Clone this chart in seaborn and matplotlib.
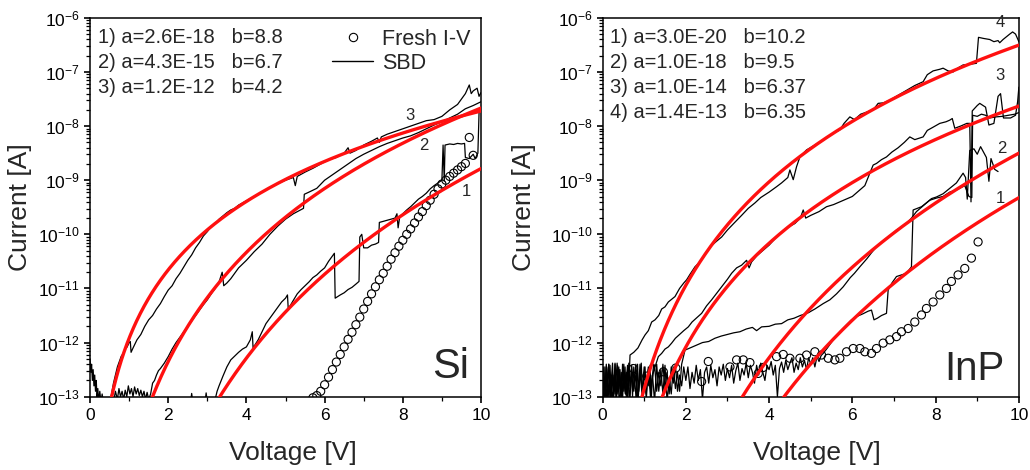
import numpy as np
import pandas as pd
import matplotlib
matplotlib.use("Agg")
import matplotlib.pyplot as plt
import seaborn as sns
from matplotlib.ticker import MultipleLocator, NullFormatter, LogLocator
from matplotlib.lines import Line2D

# ---------------- data (voltages in V, currents as log10(I [A])) ----------------
si_fit_a = [2.6e-18, 4.3e-15, 1.2e-12]
si_fit_b = [8.8, 6.7, 4.2]
si_fit_text = ["1) a=2.6E-18   b=8.8", "2) a=4.3E-15   b=6.7", "3) a=1.2E-12   b=4.2"]

inp_fit_a = [3.0e-20, 1.0e-18, 1.0e-14, 1.4e-13]
inp_fit_b = [10.2, 9.5, 6.37, 6.35]
inp_fit_text = ["1) a=3.0E-20   b=10.2", "2) a=1.0E-18   b=9.5",
                "3) a=1.0E-14   b=6.37", "4) a=1.4E-13   b=6.35"]

si_sbd3_v = [0.00, 0.02, 0.04, 0.06, 0.08, 0.10, 0.12, 0.14, 0.16, 0.18, 0.20, 0.22, 0.25, 0.28, 0.31, 0.34,
             0.37, 0.40, 0.45, 0.50, 0.55, 0.60, 0.65, 0.70, 0.75, 0.80, 0.85, 0.90, 0.95, 1.00, 1.03, 1.05,
             1.10, 1.20, 1.30, 1.40, 1.50, 1.60, 1.70, 1.80, 1.90, 2.00, 2.10, 2.20, 2.30, 2.40, 2.50, 2.60,
             2.70, 2.80, 2.90, 3.00, 3.10, 3.20, 3.30, 3.40, 3.50, 3.60, 3.70, 3.80, 3.90, 4.00, 4.20, 4.40,
             4.60, 4.80, 5.00, 5.20, 5.25, 5.30, 5.50, 5.70, 5.90, 6.10, 6.30, 6.50, 6.60, 6.65, 6.80, 7.00,
             7.20, 7.35, 7.40, 7.45, 7.60, 7.80, 8.00, 8.20, 8.40, 8.60, 8.80, 9.00, 9.20, 9.40, 9.50, 9.60,
             9.70, 9.75, 9.80, 9.90, 9.95, 10.0]
si_sbd3_logi = [-12.30, -12.55, -12.40, -12.70, -12.50, -12.80, -12.60, -12.90, -12.70, -13.05, -12.85, -13.10,
                -12.90, -13.10, -12.95, -13.10, -13.05, -13.10, -13.05, -13.10, -12.95, -12.75, -12.60, -12.45,
                -12.35, -12.25, -12.20, -12.12, -12.08, -12.00, -11.98, -12.18, -12.10, -11.95, -11.85, -11.70,
                -11.58, -11.50, -11.38, -11.28, -11.15, -11.03, -10.95, -10.82, -10.72, -10.60, -10.48, -10.38,
                -10.25, -10.15, -10.03, -9.95, -9.85, -9.80, -9.72, -9.66, -9.60, -9.55, -9.52, -9.46, -9.42,
                -9.38, -9.30, -9.22, -9.14, -9.06, -9.00, -8.95, -9.10, -8.93, -8.85, -8.78, -8.70, -8.62, -8.58,
                -8.50, -8.40, -8.50, -8.45, -8.35, -8.28, -8.22, -8.30, -8.20, -8.15, -8.10, -8.05, -8.00, -7.95,
                -7.90, -7.88, -7.82, -7.70, -7.60, -7.50, -7.40, -7.24, -7.40, -7.35, -7.30, -7.45, -7.38]

si_sbd2_v = [0.60, 0.65, 0.70, 0.74, 0.78, 0.82, 0.86, 0.90, 0.94, 0.98, 1.02, 1.06, 1.10, 1.14, 1.18, 1.22,
             1.26, 1.30, 1.34, 1.38, 1.42, 1.46, 1.50, 1.55, 1.60, 1.65, 1.70, 1.75, 1.80, 1.90, 2.00, 2.10,
             2.20, 2.30, 2.40, 2.50, 2.60, 2.70, 2.80, 2.90, 3.00, 3.10, 3.20, 3.30, 3.38, 3.42, 3.50, 3.60,
             3.70, 3.80, 3.90, 4.00, 4.20, 4.40, 4.60, 4.80, 5.00, 5.20, 5.46, 5.48, 5.60, 5.80, 6.00, 6.20,
             6.40, 6.60, 6.80, 7.00, 7.20, 7.40, 7.60, 7.80, 8.00, 8.20, 8.40, 8.60, 8.80, 9.00, 9.20, 9.40,
             9.60, 9.80, 10.0]
si_sbd2_logi = [-13.10, -12.90, -13.05, -12.85, -13.00, -12.90, -13.05, -12.88, -13.00, -12.80, -12.95, -12.85,
                -13.00, -12.82, -12.95, -12.85, -12.98, -12.88, -13.00, -12.90, -13.05, -12.92, -13.05, -12.95,
                -12.75, -12.70, -12.60, -12.52, -12.48, -12.38, -12.26, -12.12, -12.00, -11.90, -11.80, -11.71,
                -11.60, -11.50, -11.40, -11.30, -11.21, -11.10, -11.00, -10.88, -10.70, -10.95, -10.90, -10.82,
                -10.72, -10.62, -10.55, -10.48, -10.32, -10.18, -10.00, -9.85, -9.72, -9.62, -9.52, -9.26, -9.22,
                -9.15, -9.00, -8.90, -8.80, -8.70, -8.60, -8.52, -8.45, -8.38, -8.32, -8.27, -8.22, -8.18, -8.12,
                -8.05, -7.98, -7.92, -7.85, -7.78, -7.68, -7.62, -7.55]

si_sbd1_v = [2.20, 2.58, 2.60, 2.62, 2.95, 2.97, 2.99, 3.20, 3.25, 3.30, 3.40, 3.50, 3.60, 3.70, 3.80, 3.90,
             4.00, 4.10, 4.15, 4.17, 4.30, 4.40, 4.50, 4.60, 4.70, 4.80, 4.90, 5.00, 5.05, 5.07, 5.20, 5.30,
             5.40, 5.50, 5.60, 5.70, 5.80, 5.90, 6.00, 6.10, 6.20, 6.25, 6.27, 6.40, 6.50, 6.60, 6.70, 6.80,
             6.88, 6.90, 6.95, 7.00, 7.10, 7.20, 7.30, 7.38, 7.40, 7.50, 7.60, 7.70, 7.80, 7.85, 7.88, 7.92,
             8.00, 8.10, 8.20, 8.30, 8.40, 8.50, 8.60, 8.70, 8.80, 8.90, 9.00, 9.03, 9.06, 9.08, 9.20, 9.30,
             9.40, 9.50, 9.58, 9.60, 9.70, 9.80, 9.85, 9.92, 9.95, 10.0]
si_sbd1_logi = [-13.05, -13.05, -12.94, -13.05, -13.05, -12.93, -13.05, -13.05, -12.90, -12.80, -12.62, -12.45,
                -12.32, -12.25, -12.18, -12.12, -12.08, -11.95, -11.80, -12.10, -11.95, -11.80, -11.65, -11.55,
                -11.45, -11.35, -11.25, -11.18, -11.12, -11.38, -11.22, -11.10, -11.02, -10.95, -10.88, -10.80,
                -10.75, -10.68, -10.62, -10.50, -10.40, -10.35, -11.18, -11.12, -11.08, -11.02, -10.98, -10.92,
                -10.87, -10.05, -10.00, -10.25, -10.25, -10.20, -10.18, -10.15, -9.78, -9.76, -9.74, -9.72,
                -9.70, -9.62, -9.88, -9.68, -9.62, -9.55, -9.49, -9.42, -9.35, -9.30, -9.24, -9.16, -9.10,
                -9.05, -9.00, -8.35, -9.02, -8.35, -8.33, -8.34, -8.32, -8.33, -8.32, -8.58, -8.60, -8.52, -8.60,
                -8.50, -7.75, -7.70]

si_fresh_v = [5.7, 5.8, 5.9, 6.0, 6.1, 6.2, 6.3, 6.4, 6.5, 6.6, 6.7, 6.8, 6.9, 7.0, 7.1, 7.2, 7.3, 7.4, 7.5,
              7.6, 7.7, 7.8, 7.9, 8.0, 8.1, 8.2, 8.3, 8.4, 8.5, 8.6, 8.7, 8.8, 8.9, 9.0, 9.1, 9.2, 9.3, 9.4,
              9.5, 9.6, 9.7, 9.8]
si_fresh_logi = [-13.02, -12.98, -12.90, -12.78, -12.64, -12.50, -12.36, -12.22, -12.08, -11.94, -11.81,
                 -11.67, -11.53, -11.38, -11.24, -11.10, -10.97, -10.84, -10.72, -10.59, -10.46, -10.34,
                 -10.22, -10.11, -10.00, -9.90, -9.79, -9.68, -9.58, -9.47, -9.37, -9.26, -9.16, -9.07,
                 -9.00, -8.93, -8.87, -8.81, -8.75, -8.69, -8.21, -8.54]

inp_sbd4_v = [0.00, 0.03, 0.06, 0.09, 0.12, 0.15, 0.18, 0.21, 0.24, 0.27, 0.30, 0.33, 0.36, 0.39, 0.42, 0.45,
              0.48, 0.51, 0.54, 0.57, 0.60, 0.63, 0.66, 0.75, 0.85, 0.95, 1.02, 1.10, 1.18, 1.26, 1.35, 1.42,
              1.50, 1.58, 1.66, 1.74, 1.85, 1.95, 2.02, 2.10, 2.22, 2.35, 2.46, 2.60, 2.75, 2.86, 3.00, 3.15,
              3.34, 3.50, 3.66, 3.80, 4.00, 4.18, 4.30, 4.45, 4.50, 4.58, 4.66, 4.74, 4.90, 5.10, 5.30, 5.50,
              5.70, 5.80, 5.94, 6.05, 6.20, 6.35, 6.50, 6.62, 6.75, 6.90, 7.10, 7.30, 7.50, 7.70, 7.80, 7.94,
              8.10, 8.18, 8.30, 8.42, 8.55, 8.66, 8.80, 8.98, 9.03, 9.15, 9.30, 9.40, 9.50, 9.54, 9.62, 9.70,
              9.78, 9.85, 9.92, 10.0]
inp_sbd4_logi = [-12.90, -13.10, -12.45, -13.05, -12.80, -12.40, -13.10, -12.70, -12.38, -13.00, -12.55, -13.10,
                 -12.42, -12.85, -12.50, -13.10, -12.40, -12.90, -12.45, -13.00, -12.50, -12.80, -12.23, -12.18,
                 -12.10, -11.95, -11.86, -11.78, -11.62, -11.58, -11.50, -11.38, -11.34, -11.25, -11.20, -11.15,
                 -11.00, -10.90, -10.84, -10.74, -10.60, -10.50, -10.38, -10.22, -10.12, -10.05, -9.92, -9.80,
                 -9.65, -9.52, -9.42, -9.32, -9.22, -9.12, -9.05, -8.95, -8.81, -8.99, -8.75, -8.57, -8.44, -8.35,
                 -8.26, -8.15, -8.07, -7.95, -7.83, -7.88, -7.78, -7.74, -7.70, -7.58, -7.57, -7.52, -7.43, -7.34,
                 -7.25, -7.18, -7.05, -6.98, -6.95, -6.93, -6.98, -7.00, -6.92, -6.87, -6.86, -6.84, -6.36, -6.38,
                 -6.40, -6.44, -6.42, -6.46, -6.40, -6.35, -6.30, -6.26, -6.30, -6.44]

inp_sbd3_v = [0.00, 0.03, 0.06, 0.09, 0.12, 0.15, 0.18, 0.21, 0.24, 0.27, 0.30, 0.33, 0.36, 0.39, 0.42, 0.45,
              0.48, 0.51, 0.54, 0.57, 0.60, 0.63, 0.66, 0.69, 0.72, 0.75, 0.78, 0.81, 0.84, 0.87, 0.90, 0.93,
              0.96, 0.99, 1.02, 1.05, 1.08, 1.11, 1.14, 1.17, 1.20, 1.23, 1.26, 1.34, 1.42, 1.50, 1.58, 1.66,
              1.75, 1.85, 1.95, 2.06, 2.15, 2.25, 2.38, 2.50, 2.62, 2.75, 2.86, 3.00, 3.10, 3.22, 3.34, 3.46,
              3.52, 3.58, 3.70, 3.82, 4.00, 4.18, 4.35, 4.50, 4.62, 4.75, 4.82, 4.88, 5.00, 5.20, 5.38, 5.55,
              5.70, 5.85, 6.00, 6.18, 6.30, 6.42, 6.50, 6.58, 6.70, 6.82, 6.95, 7.10, 7.25, 7.38, 7.50, 7.70,
              7.80, 7.94, 8.10, 8.25, 8.34, 8.40, 8.46, 8.60, 8.75, 8.82, 8.85, 8.88, 9.00, 9.06, 9.20, 9.28,
              9.40, 9.50, 9.56, 9.63, 9.80, 9.92, 9.97, 10.0]
inp_sbd3_logi = [-13.05, -12.45, -12.95, -12.40, -13.10, -12.75, -12.42, -13.05, -12.60, -12.90, -12.38, -13.10,
                 -12.70, -12.45, -12.95, -12.55, -13.10, -12.40, -12.80, -12.55, -13.05, -12.38, -12.85, -12.50,
                 -13.00, -12.45, -12.75, -13.10, -12.40, -12.90, -12.60, -12.38, -13.00, -12.65, -12.45, -12.95,
                 -12.55, -12.80, -12.42, -13.05, -12.60, -12.40, -12.45, -12.26, -12.20, -12.12, -12.08, -12.01,
                 -11.92, -11.85, -11.78, -11.71, -11.62, -11.55, -11.46, -11.32, -11.21, -11.08, -10.97, -10.83,
                 -10.72, -10.62, -10.57, -10.48, -10.62, -10.51, -10.40, -10.32, -10.20, -10.05, -9.92, -9.85,
                 -9.80, -9.70, -9.55, -9.70, -9.65, -9.58, -9.49, -9.45, -9.40, -9.35, -9.30, -9.18, -9.10, -8.87,
                 -8.72, -8.69, -8.62, -8.57, -8.48, -8.40, -8.30, -8.20, -8.25, -8.20, -8.08, -8.02, -7.95, -7.92,
                 -7.89, -7.86, -8.04, -8.00, -7.95, -7.95, -9.40, -7.72, -7.62, -7.58, -7.65, -7.98, -7.95, -7.45,
                 -7.40, -7.85, -7.85, -7.80, -7.55, -7.28]

inp_sbd2_v = [0.00, 0.05, 0.10, 0.15, 0.20, 0.25, 0.30, 0.35, 0.40, 0.45, 0.50, 0.55, 0.60, 0.65, 0.70, 0.75,
              0.80, 0.85, 0.90, 0.95, 1.00, 1.05, 1.10, 1.15, 1.20, 1.25, 1.30, 1.35, 1.40, 1.45, 1.50, 1.55,
              1.60, 1.65, 1.70, 1.75, 1.80, 1.85, 1.90, 1.98, 2.10, 2.25, 2.40, 2.55, 2.70, 2.85, 3.00, 3.15,
              3.30, 3.45, 3.60, 3.70, 3.82, 4.00, 4.15, 4.30, 4.45, 4.60, 4.75, 4.94, 5.10, 5.30, 5.46, 5.62,
              5.78, 5.95, 6.05, 6.18, 6.35, 6.45, 6.58, 6.70, 6.82, 6.95, 7.06, 7.20, 7.30, 7.42, 7.54, 7.66,
              7.78, 7.90, 8.02, 8.18, 8.34, 8.50, 8.66, 8.72, 8.76, 8.82, 8.92, 9.00, 9.08, 9.15, 9.22, 9.28,
              9.33, 9.42, 9.50]
inp_sbd2_logi = [-12.80, -13.10, -12.45, -13.00, -12.60, -13.10, -12.40, -12.95, -12.50, -13.10, -12.65, -12.95,
                 -12.42, -13.05, -12.60, -12.90, -12.40, -13.10, -12.55, -12.95, -12.45, -13.05, -12.50, -12.85,
                 -12.60, -13.10, -12.40, -12.90, -12.50, -12.95, -12.42, -13.10, -12.65, -12.95, -12.45, -12.85,
                 -12.55, -12.90, -12.40, -12.14, -12.10, -12.05, -12.00, -11.98, -11.92, -11.88, -11.85, -11.82,
                 -11.80, -11.75, -11.72, -11.78, -11.71, -11.70, -11.66, -11.65, -11.58, -11.55, -11.50, -11.45,
                 -11.38, -11.28, -11.21, -11.10, -10.97, -10.80, -10.72, -10.60, -10.45, -10.35, -10.23, -10.15,
                 -10.07, -10.00, -9.92, -9.86, -9.80, -9.70, -9.58, -9.50, -9.42, -9.34, -9.31, -9.25, -9.15,
                 -9.05, -8.87, -8.95, -9.35, -8.45, -8.42, -8.52, -8.38, -8.48, -8.58, -9.02, -8.60, -8.80, -8.84]

# InP trace 1: noisy floor sampled every 0.05 V from 0 to 5.30 V, then the measured rise
inp_sbd1_noise_logi = [
    -12.45, -13.10, -12.75, -12.40, -13.05, -12.60, -12.95, -12.38, -13.10, -12.80,
    -12.45, -12.95, -12.55, -13.10, -12.42, -12.85, -12.60, -13.05, -12.40, -12.90,
    -12.55, -12.80, -12.45, -13.00, -12.65, -12.42, -12.90, -12.55, -12.80, -12.40,
    -12.85, -12.55, -12.95, -12.45, -12.75, -12.42, -12.90, -12.60, -12.80, -12.45,
    -12.70, -12.45, -12.85, -12.55, -12.75, -12.42, -12.70, -12.50, -13.05, -12.55,
    -12.45, -12.75, -12.42, -12.65, -12.50, -12.80, -12.45, -12.60, -12.40, -12.70,
    -12.48, -12.65, -12.42, -12.75, -12.52, -12.38, -12.70, -12.48, -12.60, -12.38,
    -12.65, -12.42, -12.55, -12.75, -12.42, -12.60, -12.38, -12.55, -12.70, -12.42,
    -12.50, -12.35, -12.60, -12.42, -13.00, -12.48, -12.36, -12.55, -12.33, -12.50,
    -12.38, -12.28, -12.55, -12.38, -12.50, -12.28, -12.45, -12.33, -12.50, -12.28,
    -12.40, -12.28, -12.45, -12.26, -12.35, -12.24, -12.20]
inp_sbd1_noise_v = np.round(np.arange(len(inp_sbd1_noise_logi)) * 0.05, 2).tolist()
inp_sbd1_rise_v = [5.40, 5.54, 5.70, 5.85, 5.98, 6.10, 6.25, 6.38, 6.46, 6.52, 6.60, 6.70, 6.82, 6.86, 6.95,
                   7.06, 7.18, 7.30, 7.42, 7.46, 7.56, 7.66, 7.76, 7.86, 8.02, 8.18, 8.34, 8.50, 8.58, 8.70,
                   8.80, 8.87, 8.89, 9.00, 9.10, 9.20, 9.30, 9.45, 9.60, 9.75, 9.90, 10.0]
inp_sbd1_rise_logi = [-12.10, -11.95, -11.80, -11.68, -11.58, -11.52, -11.47, -11.42, -11.40, -11.58, -11.55,
                      -11.50, -11.46, -11.03, -10.90, -10.78, -10.75, -10.72, -10.60, -9.55, -9.52, -9.49, -9.43,
                      -9.37, -9.33, -9.30, -9.22, -9.18, -9.15, -9.10, -9.30, -9.32, -7.80, -7.82, -7.78, -7.80,
                      -7.85, -7.83, -7.82, -7.80, -7.78, -7.75]

inp_fresh_v = [0.74, 1.06, 1.46, 1.76, 2.38, 2.54, 3.06, 3.22, 3.38, 3.54, 3.74, 3.86, 4.18, 4.34, 4.50,
               4.74, 4.90, 5.10, 5.26, 5.42, 5.58, 5.70, 5.86, 6.02, 6.18, 6.30, 6.46, 6.58, 6.74, 6.90,
               7.06, 7.18, 7.34, 7.50, 7.66, 7.78, 7.94, 8.10, 8.26, 8.38, 8.54, 8.70, 8.86, 9.02]
inp_fresh_logi = [-12.48, -12.62, -12.54, -12.47, -12.72, -12.35, -12.45, -12.32, -12.32, -12.37, -12.57,
                  -12.46, -12.26, -12.22, -12.29, -12.29, -12.23, -12.17, -12.23, -12.29, -12.32, -12.29,
                  -12.17, -12.11, -12.11, -12.17, -12.20, -12.11, -12.01, -11.95, -11.89, -11.80, -11.74,
                  -11.62, -11.49, -11.37, -11.25, -11.12, -11.00, -10.87, -10.75, -10.63, -10.44, -10.14]

si_curve_labels = ["1", "2", "3"]
inp_curve_labels = ["1", "2", "3", "4"]

# ---------------- style ----------------
sns.set_theme(style="ticks")
plt.rcParams["font.family"] = ["Liberation Sans", "DejaVu Sans"]
plt.rcParams["mathtext.fontset"] = "custom"
plt.rcParams["mathtext.rm"] = "Liberation Sans"
plt.rcParams["mathtext.it"] = "Liberation Sans:italic"
plt.rcParams["mathtext.bf"] = "Liberation Sans:bold"
plt.rcParams["axes.linewidth"] = 1.1
plt.rcParams["axes.edgecolor"] = "black"
plt.rcParams["xtick.color"] = "black"
plt.rcParams["ytick.color"] = "black"

RED = "#ff1010"

fig = plt.figure(figsize=(10.3, 4.7), dpi=100)
ax1 = fig.add_axes([0.0874, 0.156, 0.3796, 0.806])
ax2 = fig.add_axes([0.585, 0.156, 0.4042, 0.806])


def draw_panel(ax, sbd, fresh, fit_a, fit_b):
    for v, lg in sbd:
        df = pd.DataFrame({"V": v, "I": np.power(10.0, lg)})
        sns.lineplot(data=df, x="V", y="I", ax=ax, color="black", lw=0.9,
                     estimator=None, sort=False, legend=False, zorder=2)
    fv, flg = fresh
    dff = pd.DataFrame({"V": fv, "I": np.power(10.0, flg)})
    sns.scatterplot(data=dff, x="V", y="I", ax=ax, marker="o", s=34,
                    facecolor="none", edgecolor="black", linewidth=0.8, zorder=3, legend=False)
    ax.collections[-1].set_facecolor("none")
    vgrid = np.linspace(0.3, 10.0, 600)
    for a, b in zip(fit_a, fit_b):
        dfit = pd.DataFrame({"V": vgrid, "I": a * vgrid ** b})
        sns.lineplot(data=dfit, x="V", y="I", ax=ax, color=RED, lw=2.4,
                     estimator=None, sort=False, legend=False, zorder=4)


draw_panel(ax1,
           [(si_sbd1_v, si_sbd1_logi), (si_sbd2_v, si_sbd2_logi), (si_sbd3_v, si_sbd3_logi)],
           (si_fresh_v, si_fresh_logi), si_fit_a, si_fit_b)
draw_panel(ax2,
           [(inp_sbd1_noise_v + inp_sbd1_rise_v, inp_sbd1_noise_logi + inp_sbd1_rise_logi),
            (inp_sbd2_v, inp_sbd2_logi), (inp_sbd3_v, inp_sbd3_logi), (inp_sbd4_v, inp_sbd4_logi)],
           (inp_fresh_v, inp_fresh_logi), inp_fit_a, inp_fit_b)

for ax in (ax1, ax2):
    ax.set_yscale("log")
    ax.set_xlim(0, 10)
    ax.set_ylim(1e-13, 1e-6)
    ax.xaxis.set_major_locator(MultipleLocator(2))
    ax.xaxis.set_minor_locator(MultipleLocator(1))
    ax.yaxis.set_major_locator(LogLocator(base=10, numticks=20))
    ax.yaxis.set_minor_locator(LogLocator(base=10, subs=np.arange(2, 10), numticks=200))
    ax.yaxis.set_minor_formatter(NullFormatter())
    ax.tick_params(which="both", left=True, bottom=True, right=False, top=False)
    ax.tick_params(which="major", direction="out", length=4.5, width=1.2,
                   labelsize=12.5, color="black", labelcolor="black", pad=2.8)
    ax.tick_params(which="minor", direction="out", length=2.8, width=0.9, color="black")
    ax.tick_params(axis="x", which="major", pad=3.8)
    ax.set_xlabel("Voltage [V]", fontsize=19)
    ax.set_ylabel("Current [A]", fontsize=19)
    for s in ax.spines.values():
        s.set_visible(True)
        s.set_color("black")
        s.set_linewidth(1.1)

ax1.xaxis.set_label_coords(0.519, -0.118)
ax2.xaxis.set_label_coords(0.516, -0.118)
ax1.yaxis.set_label_coords(-0.148, 0.5)
ax2.yaxis.set_label_coords(-0.160, 0.5)

# parameter texts
for i, t in enumerate(si_fit_text):
    ax1.text(0.021, 0.934 - i * 0.066, t, transform=ax1.transAxes, fontsize=14.5, va="baseline", ha="left")
for i, t in enumerate(inp_fit_text):
    ax2.text(0.0175, 0.934 - i * 0.0665, t, transform=ax2.transAxes, fontsize=14.5, va="baseline", ha="left")

# curve labels
si_lab_pos = [(9.63, 10 ** -9.21), (8.53, 10 ** -8.35), (8.17, 10 ** -7.80)]
for lab, (x, y) in zip(si_curve_labels, si_lab_pos):
    ax1.text(x, y, lab, fontsize=12, ha="center", va="center")
inp_lab_pos = [(9.55, 10 ** -9.34), (9.58, 10 ** -8.41), (9.55, 10 ** -7.06), (9.55, 10 ** -6.09)]
for lab, (x, y) in zip(inp_curve_labels, inp_lab_pos):
    ax2.text(x, y, lab, fontsize=12, ha="center", va="center")

# material labels
ax1.text(0.968, 0.050, "Si", transform=ax1.transAxes, fontsize=30, ha="right", va="baseline")
ax2.text(0.966, 0.044, "InP", transform=ax2.transAxes, fontsize=29, ha="right", va="baseline")

# legend
handles = [Line2D([], [], marker="o", ls="none", mfc="none", mec="black", ms=6, mew=0.8),
           Line2D([], [], color="black", lw=1.0)]
ax1.legend(handles, ["Fresh I-V", "SBD"], loc="upper right", frameon=False, fontsize=15.5,
           handlelength=1.9, handletextpad=0.4, labelspacing=0.15, borderaxespad=0.1,
           borderpad=0.4)

fig.savefig("out.png", dpi=100)
